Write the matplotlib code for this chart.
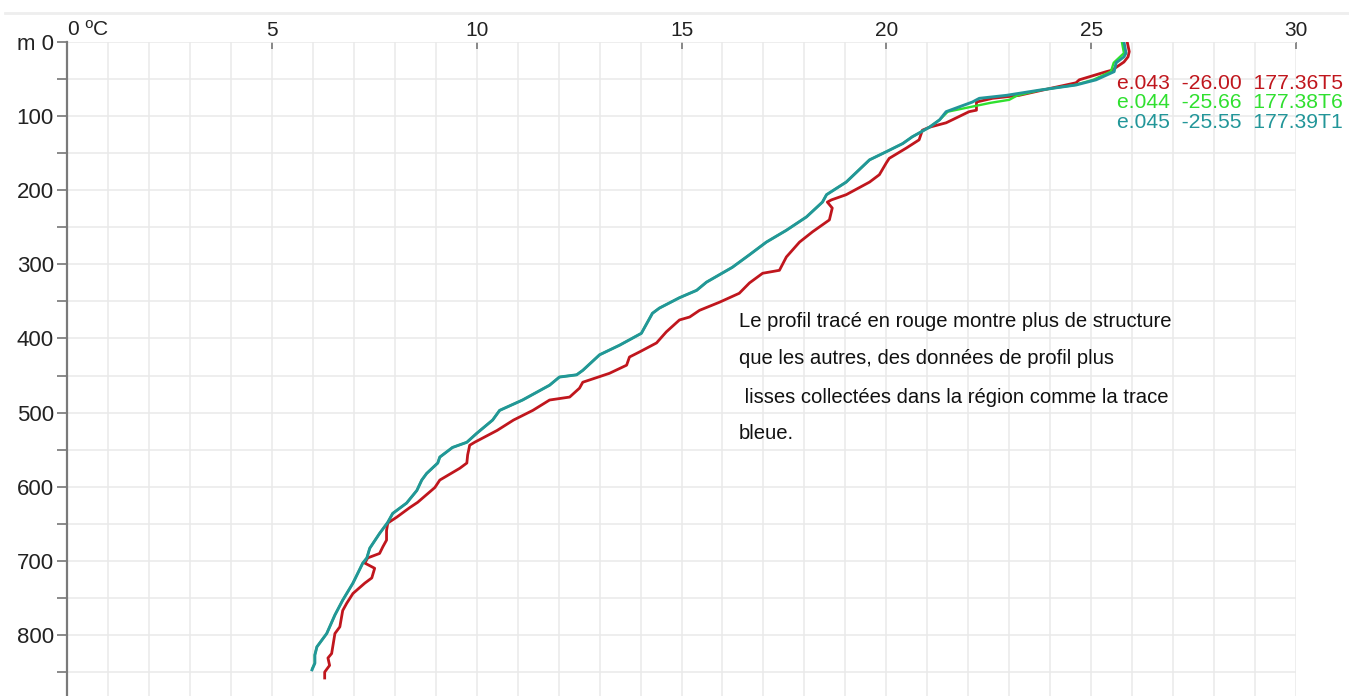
import matplotlib
matplotlib.use("Agg")
import matplotlib.pyplot as plt
from matplotlib.lines import Line2D
from matplotlib.ticker import MultipleLocator

plt.rcParams['font.family'] = ['Liberation Sans', 'DejaVu Sans']

# Temperature profiles: depth (m) and temperature (ºC)
depth_e043 = [0, 13, 20, 27, 38, 40, 51, 55, 62, 72, 76, 81, 92, 94, 109, 115, 119,
              132, 143, 157, 163, 179, 189, 206, 213, 216, 224, 240, 256, 270, 290,
              308, 312, 325, 339, 351, 362, 371, 375, 391, 406, 418, 425, 436, 447,
              459, 467, 479, 483, 497, 510, 524, 540, 544, 557, 568, 575, 591, 601,
              621, 628, 641, 649, 659, 672, 681, 690, 696, 703, 710, 723, 730, 744,
              757, 767, 789, 798, 825, 831, 841, 850, 858]
temp_e043 = [25.88, 25.93, 25.90, 25.80, 25.51, 25.37, 24.71, 24.63, 24.05, 23.24,
             22.59, 22.20, 22.20, 22.02, 21.46, 21.05, 20.88, 20.80, 20.49, 20.07,
             20.00, 19.83, 19.59, 19.02, 18.66, 18.56, 18.68, 18.61, 18.20, 17.88,
             17.56, 17.39, 16.98, 16.66, 16.41, 15.93, 15.44, 15.20, 14.95, 14.63,
             14.39, 13.98, 13.73, 13.66, 13.24, 12.59, 12.51, 12.27, 11.78, 11.37,
             10.90, 10.50, 9.95, 9.83, 9.78, 9.76, 9.59, 9.10, 8.98, 8.56, 8.37,
             8.05, 7.83, 7.80, 7.80, 7.71, 7.63, 7.34, 7.27, 7.51, 7.44, 7.27, 6.98,
             6.83, 6.73, 6.66, 6.54, 6.46, 6.37, 6.41, 6.29, 6.29]

depth_e044 = [0, 15, 28, 40, 51, 58, 65, 72, 78, 82, 86, 94, 105, 115, 128, 137,
              148, 159, 189, 206, 216, 236, 254, 270, 287, 304, 324, 335, 345, 359,
              366, 393, 409, 422, 443, 449, 452, 463, 483, 497, 510, 528, 540, 547,
              560, 568, 582, 591, 605, 622, 636, 648, 663, 683, 696, 703, 730, 753,
              773, 798, 816, 827, 838, 845]
temp_e044 = [25.75, 25.80, 25.55, 25.48, 25.05, 24.60, 23.75, 23.20, 23.00, 22.55,
             22.20, 21.50, 21.30, 21.05, 20.63, 20.40, 20.00, 19.59, 19.02, 18.54,
             18.44, 18.05, 17.56, 17.07, 16.66, 16.24, 15.61, 15.37, 14.95, 14.46,
             14.29, 14.02, 13.49, 13.00, 12.59, 12.44, 12.02, 11.78, 11.12, 10.56,
             10.39, 10.00, 9.76, 9.41, 9.10, 9.05, 8.78, 8.66, 8.54, 8.29, 7.95,
             7.83, 7.63, 7.39, 7.32, 7.22, 6.98, 6.73, 6.54, 6.34, 6.10, 6.05,
             6.05, 5.99]

depth_e045 = [0, 15, 20, 28, 40, 51, 58, 65, 72, 76, 81, 94, 105, 115, 128, 137,
              148, 159, 189, 206, 216, 236, 254, 270, 287, 304, 324, 335, 345, 359,
              366, 393, 409, 422, 443, 449, 452, 463, 483, 497, 510, 528, 540, 547,
              560, 568, 582, 591, 605, 622, 636, 648, 663, 683, 696, 703, 730, 753,
              773, 798, 816, 827, 838, 847]
temp_e045 = [25.80, 25.85, 25.80, 25.61, 25.56, 25.12, 24.63, 23.73, 22.93, 22.27,
             22.10, 21.46, 21.30, 21.05, 20.63, 20.40, 20.00, 19.59, 19.02, 18.54,
             18.44, 18.05, 17.56, 17.07, 16.66, 16.24, 15.61, 15.37, 14.95, 14.46,
             14.29, 14.02, 13.49, 13.00, 12.59, 12.44, 12.02, 11.78, 11.12, 10.56,
             10.39, 10.00, 9.76, 9.41, 9.10, 9.05, 8.78, 8.66, 8.54, 8.29, 7.95,
             7.83, 7.63, 7.39, 7.32, 7.22, 6.98, 6.73, 6.54, 6.34, 6.10, 6.05,
             6.05, 5.98]

station_labels = ["e.043  -26.00  177.36T5",
                  "e.044  -25.66  177.38T6",
                  "e.045  -25.55  177.39T1"]
station_colors = ["#c0161d", "#2fe02f", "#229699"]
line_widths = [2.0, 1.7, 2.1]

x_ticks = [0, 5, 10, 15, 20, 25, 30]
x_tick_labels = ["", "5", "10", "15", "20", "25", "30"]
y_ticks = [0, 100, 200, 300, 400, 500, 600, 700, 800]
y_tick_labels = ["m 0", "100", "200", "300", "400", "500", "600", "700", "800"]

note_lines = ["Le profil tracé en rouge montre plus de structure",
              "que les autres, des données de profil plus",
              " lisses collectées dans la région comme la trace",
              "bleue."]

W, H = 1349, 696
fig = plt.figure(figsize=(W / 100, H / 100), dpi=100)
left_px, right_px, top_px = 67, 1296, 42
ax = fig.add_axes([left_px / W, 0, (right_px - left_px) / W, 1 - top_px / H])

# faint rule across the top of the figure
fig.add_artist(Line2D([5 / W, 1], [1 - 13 / H, 1 - 13 / H], transform=fig.transFigure,
                      color="#eeeeee", lw=2))

ax.set_xlim(0, 30)
ax.set_ylim(882.3, 0)

ax.xaxis.set_minor_locator(MultipleLocator(1))
ax.yaxis.set_minor_locator(MultipleLocator(50))
ax.grid(True, which="both", color="#e9e9e9", lw=1.1)
ax.set_axisbelow(True)

for name in ["top", "right", "bottom"]:
    ax.spines[name].set_visible(False)
ax.spines["left"].set_color("#7a7a7a")
ax.spines["left"].set_linewidth(1.6)

ax.xaxis.tick_top()
ax.set_xticks(x_ticks)
ax.set_xticklabels(x_tick_labels)
ax.tick_params(axis="x", which="major", direction="in", length=5, width=1.2,
               color="#777777", labelsize=15, labelcolor="#222222", pad=1.5)
ax.tick_params(axis="x", which="minor", length=0)
ax.set_yticks(y_ticks)
ax.set_yticklabels(y_tick_labels)
ax.tick_params(axis="y", which="both", direction="out", length=7, width=1.2,
               color="#777777", labelsize=16, labelcolor="#222222", pad=2.5)

ax.text(0.02, -3.5, "0 ºC", fontsize=15, color="#222222", ha="left", va="bottom",
        clip_on=False)

profiles = [(depth_e043, temp_e043), (depth_e044, temp_e044), (depth_e045, temp_e045)]
for (d, t), c, w in zip(profiles, station_colors, line_widths):
    ax.plot(t, d, color=c, lw=w, solid_joinstyle="round")

for i, (lab, c) in enumerate(zip(station_labels, station_colors)):
    ax.text(25.63, 55.5 + i * 26.5, lab, color=c, fontsize=15.2, ha="left",
            va="center", clip_on=False)

note_y = [377.5, 426.5, 479, 527.5]
for line, y in zip(note_lines, note_y):
    ax.text(16.4, y, line, fontsize=14.6, color="#111111", ha="left", va="center")

fig.savefig("out.png", dpi=100)
